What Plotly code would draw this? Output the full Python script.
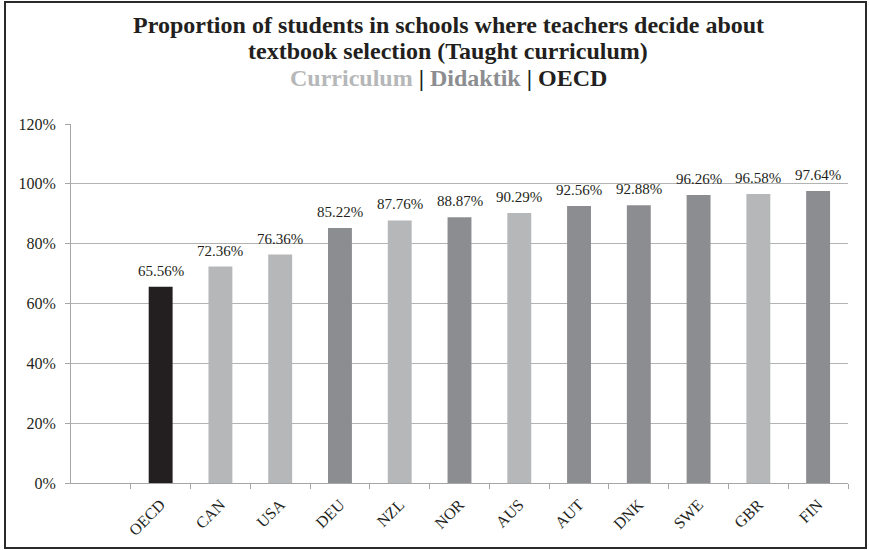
import plotly.graph_objects as go

categories = ["OECD", "CAN", "USA", "DEU", "NZL", "NOR", "AUS", "AUT", "DNK", "SWE", "GBR", "FIN"]
values = [65.56, 72.36, 76.36, 85.22, 87.76, 88.87, 90.29, 92.56, 92.88, 96.26, 96.58, 97.64]
groups = ["OECD", "Curriculum", "Curriculum", "Didaktik", "Curriculum", "Didaktik",
          "Curriculum", "Didaktik", "Didaktik", "Didaktik", "Curriculum", "Didaktik"]
group_colors = {"OECD": "#231f20", "Curriculum": "#b6b7b9", "Didaktik": "#8c8d90"}
y_ticks = [0, 20, 40, 60, 80, 100, 120]

SERIF = "Liberation Serif, Times New Roman, serif"

fig = go.Figure()
fig.add_trace(go.Bar(
    x=categories, y=values,
    marker=dict(color=[group_colors[g] for g in groups], line=dict(width=0)),
    width=0.4, showlegend=False, hoverinfo="skip",
))

for c, v in zip(categories, values):
    fig.add_annotation(x=c, y=v, xref="x", yref="y", text=f"{v:.2f}%",
                       showarrow=False, yanchor="bottom", yshift=6,
                       font=dict(family=SERIF, size=15, color="#231f20"))

W, H = 869, 550
L, R, T, B = 71, 21, 124, 67
pw, ph = W - L - R, H - T - B

def px(x):
    return (x - L) / pw

def py(y):
    return (H - B - y) / ph

fig.update_layout(
    width=W, height=H,
    margin=dict(l=L, r=R, t=T, b=B, pad=0),
    paper_bgcolor="white", plot_bgcolor="white",
    font=dict(family=SERIF, color="#231f20"),
    xaxis=dict(
        type="category", range=[-1.5, len(categories) - 0.5],
        tickson="boundaries", ticks="outside", ticklen=5, tickcolor="#a6a6a6",
        showgrid=False, showline=True, linecolor="#a6a6a6", linewidth=1,
        tickangle=-45, tickfont=dict(family=SERIF, size=16, color="#231f20"),
        ticklabelstandoff=5,
        fixedrange=True,
    ),
    yaxis=dict(
        range=[0, 120], tickvals=y_ticks, ticktext=[f"{v}%" for v in y_ticks],
        ticks="outside", ticklen=5, tickcolor="#a6a6a6",
        showgrid=True, gridcolor="#b3b3b3", gridwidth=1,
        showline=True, linecolor="#a6a6a6", linewidth=1, zeroline=False,
        tickfont=dict(family=SERIF, size=16, color="#231f20"),
        ticklabelstandoff=6,
        fixedrange=True,
    ),
    bargap=0.6,
)

fig.add_shape(type="rect", xref="paper", yref="paper",
              x0=px(5), x1=px(866), y0=py(548), y1=py(2),
              line=dict(color="#2a2a2a", width=2), fillcolor="rgba(0,0,0,0)", layer="above")

title_lines = [
    ("<b>Proportion of students in schools where teachers decide about</b>", 25),
    ("<b>textbook selection (Taught curriculum)</b>", 51),
    ("<b><span style='color:#b6b7b9'>Curriculum</span> | "
     "<span style='color:#8c8d90'>Didaktik</span> | OECD</b>", 78),
]
for text, ypix in title_lines:
    fig.add_annotation(text=text, xref="paper", yref="paper",
                       x=px(448), y=py(ypix),
                       xanchor="center", yanchor="middle", showarrow=False,
                       font=dict(family=SERIF, size=24, color="#231f20"))

fig.write_html("out.html", config={"displayModeBar": False},
               post_script="document.body.style.margin='0';")
